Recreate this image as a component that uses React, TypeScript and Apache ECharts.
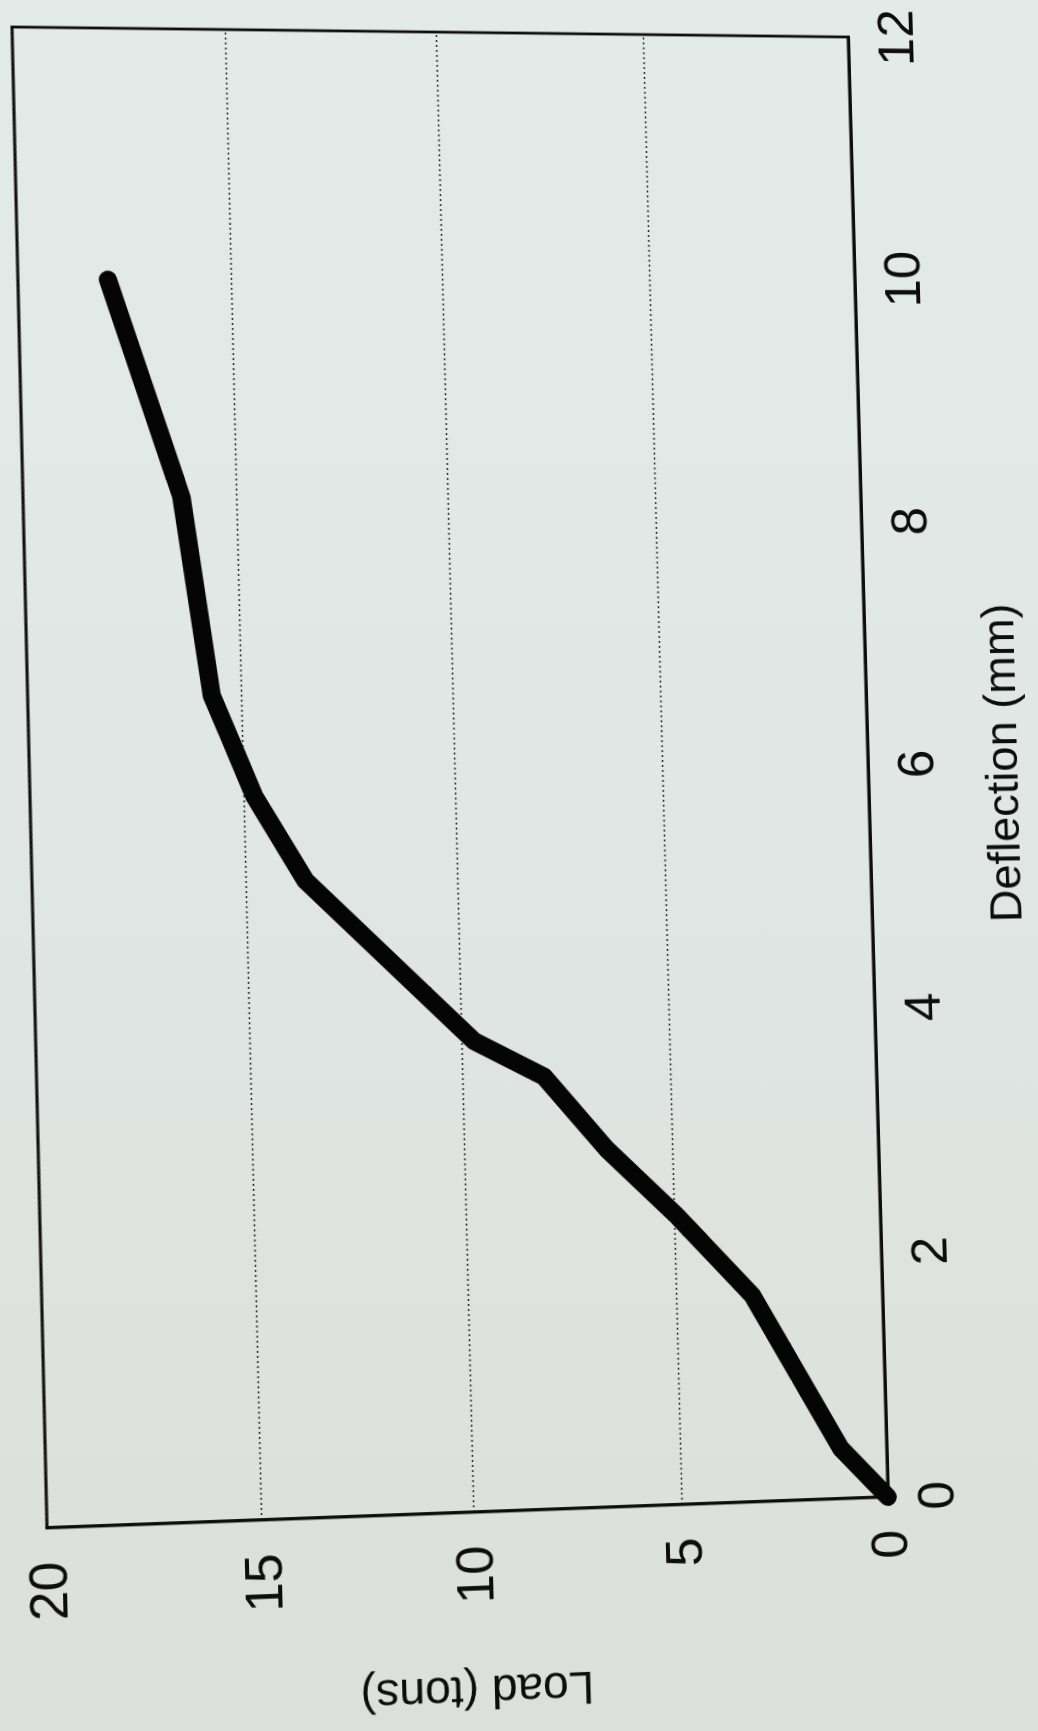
import React, { useEffect, useRef } from "react";
import * as echarts from "echarts";

// ---- data ----
const deflectionMm = [0, 0.41, 1.68, 2.35, 2.9, 3.5, 3.8, 5.12, 5.8, 6.62, 8.22, 9.97];
const loadTons = [0, 1.12, 3.17, 4.96, 6.59, 8.05, 9.7, 13.6, 14.75, 15.7, 16.3, 17.9];
const deflectionAxis = { min: 0, max: 12, interval: 2 };
const loadAxis = { min: 0, max: 20, interval: 5 };
const xTitle = "Deflection (mm)";
const yTitle = "Load (tons)";

// ---- layout ----
const FONT = '"Liberation Sans", Arial, Helvetica, sans-serif';
const CHART_W = 1780;
const CHART_H = 1058;
const GRID = { left: 240, top: 20, width: 1480, height: 838 };
// where the plot-box corners land on the photographed page
const PAGE_CORNERS = [
  [47, 1528], // grid top-left  (defl 0, load 20)
  [12, 27], // grid top-right (defl 12, load 20)
  [848, 37], // grid bottom-right (defl 12, load 0)
  [888, 1497], // grid bottom-left (defl 0, load 0)
];

function homography(src: number[][], dst: number[][]): number[] {
  const A: number[][] = [];
  for (let i = 0; i < 4; i++) {
    const [p, q] = src[i];
    const [x, y] = dst[i];
    A.push([p, q, 1, 0, 0, 0, -p * x, -q * x, x]);
    A.push([0, 0, 0, p, q, 1, -p * y, -q * y, y]);
  }
  const n = 8;
  for (let c = 0; c < n; c++) {
    let piv = c;
    for (let r = c + 1; r < n; r++) if (Math.abs(A[r][c]) > Math.abs(A[piv][c])) piv = r;
    const tmp = A[c];
    A[c] = A[piv];
    A[piv] = tmp;
    for (let r = 0; r < n; r++) {
      if (r === c) continue;
      const f = A[r][c] / A[c][c];
      for (let k = c; k <= n; k++) A[r][k] -= f * A[c][k];
    }
  }
  return A.map((row, i) => row[n] / row[i]);
}

function cssTransform(): string {
  const gl = GRID.left;
  const gt = GRID.top;
  const gr = GRID.left + GRID.width;
  const gb = GRID.top + GRID.height;
  const src = [
    [gl, gt],
    [gr, gt],
    [gr, gb],
    [gl, gb],
  ];
  const h = homography(src, PAGE_CORNERS);
  return `matrix3d(${h[0]},${h[3]},0,${h[6]},${h[1]},${h[4]},0,${h[7]},0,0,1,0,${h[2]},${h[5]},0,1)`;
}

export default function App() {
  const ref = useRef<HTMLDivElement>(null);

  useEffect(() => {
    if (!ref.current) return;
    const chart = echarts.init(ref.current, undefined, { renderer: "svg" });
    const textColor = "#0d0d0d";
    chart.setOption({
      animation: false,
      backgroundColor: "transparent",
      textStyle: { fontFamily: FONT },
      grid: {
        left: GRID.left,
        top: GRID.top,
        width: GRID.width,
        height: GRID.height,
        show: true,
        borderColor: "#0d0d0d",
        borderWidth: 2.8,
        backgroundColor: "transparent",
        containLabel: false,
        outerBoundsMode: "none",
      },
      xAxis: {
        type: "value",
        min: deflectionAxis.min,
        max: deflectionAxis.max,
        interval: deflectionAxis.interval,
        name: xTitle,
        nameLocation: "middle",
        nameGap: 115,
        nameTextStyle: { fontSize: 46, color: textColor, fontFamily: FONT },
        axisLine: { show: true, onZero: false, lineStyle: { color: "#0d0d0d", width: 2.8 } },
        axisTick: { show: false },
        splitLine: { show: false },
        axisLabel: {
          fontSize: 52,
          color: textColor,
          fontFamily: FONT,
          margin: 23,
          showMinLabel: true,
          showMaxLabel: true,
          hideOverlap: false,
        },
      },
      yAxis: {
        type: "value",
        min: loadAxis.min,
        max: loadAxis.max,
        interval: loadAxis.interval,
        name: yTitle,
        nameLocation: "middle",
        nameGap: 156,
        nameRotate: 90,
        nameTextStyle: { fontSize: 46, color: textColor, fontFamily: FONT },
        axisLine: { show: true, onZero: false, lineStyle: { color: "#0d0d0d", width: 2.8 } },
        axisTick: { show: false },
        splitLine: { show: true, lineStyle: { color: "#262626", width: 1.4, type: [2, 3] } },
        axisLabel: {
          fontSize: 52,
          color: textColor,
          fontFamily: FONT,
          margin: 33,
          showMinLabel: true,
          showMaxLabel: true,
          hideOverlap: false,
        },
      },
      series: [
        {
          type: "line",
          data: deflectionMm.map((d, i) => [d, loadTons[i]]),
          showSymbol: false,
          symbol: "none",
          silent: true,
          lineStyle: { color: "#050505", width: 18, cap: "round", join: "round" },
        },
      ],
    });
    return () => chart.dispose();
  }, []);

  return (
    <div
      style={{
        position: "absolute",
        left: 0,
        top: 0,
        width: 1038,
        height: 1731,
        overflow: "hidden",
        background: "linear-gradient(180deg, #e3ebe8 0%, #e0e7e4 45%, #dcdfdc 100%)",
      }}
    >
      <div
        ref={ref}
        style={{
          position: "absolute",
          left: 0,
          top: 0,
          width: CHART_W,
          height: CHART_H,
          transformOrigin: "0 0",
          transform: cssTransform(),
        }}
      />
    </div>
  );
}
